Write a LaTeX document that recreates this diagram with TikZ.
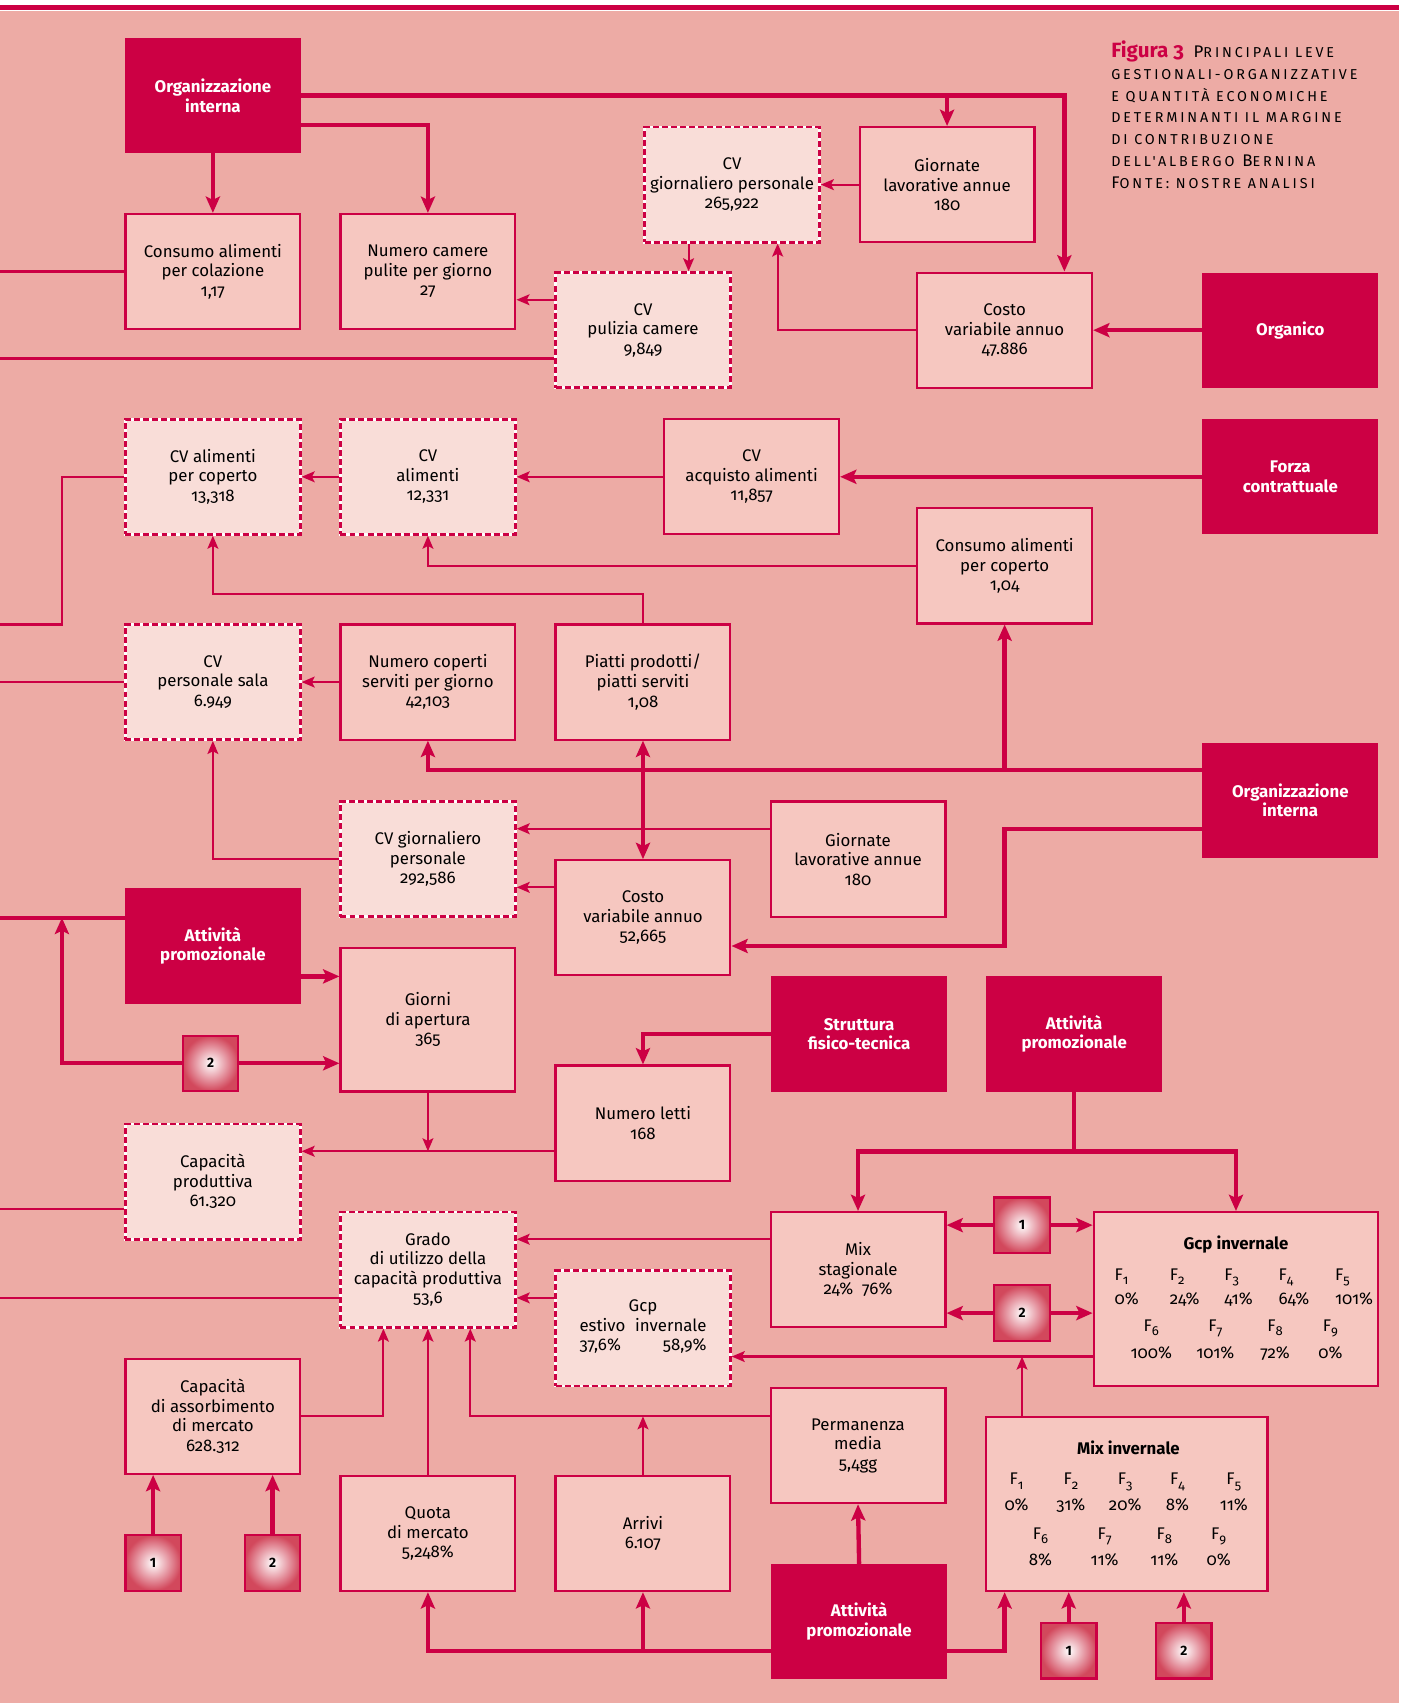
\documentclass[tikz,border=0pt]{standalone}
\usepackage{fontspec}
\setmainfont[Numbers=OldStyle]{Fira Sans}
\newfontfamily\capsfont[LetterSpace=20, Numbers=OldStyle]{Fira Sans}
\usetikzlibrary{arrows.meta}

\definecolor{cremisi}{RGB}{204,0,68}
\definecolor{sfondo}{RGB}{237,171,165}
\definecolor{rosaqta}{RGB}{246,199,192}
\definecolor{rosachiaro}{RGB}{249,221,216}
\definecolor{numrosso}{RGB}{210,72,92}

\newcommand{\Fpedice}[1]{F\raisebox{-4pt}{\fontsize{12}{12}\selectfont #1}}
\newcommand{\maiuscoletto}[1]{{\fontsize{13.2}{20.2}\selectfont\MakeUppercase{#1}}}
\AtBeginDocument{\fontsize{15.5}{18}\selectfont}

\tikzset{
  leva/.style={fill=cremisi, text=white, font=\bfseries, minimum width=162pt, minimum height=106pt, align=center, inner sep=0pt},
  qta/.style={fill=rosaqta, draw=cremisi, line width=2pt, minimum width=161pt, minimum height=106pt, align=center, inner sep=0pt},
  calcolo/.style={fill=rosachiaro, draw=white, line width=2.4pt, minimum width=161pt, minimum height=106pt, align=center, inner sep=0pt, postaction={draw=cremisi, dash pattern=on 5.5pt off 2.8pt}},
  rimando/.style={draw=cremisi, line width=2pt, inner color=white, outer color=numrosso, minimum size=51pt, inner sep=0pt, font=\bfseries\addfontfeatures{Numbers=Lining}\fontsize{12.5}{12.5}\selectfont},
  voce/.style={inner sep=0pt},
  filo/.style={draw=cremisi, line width=2pt, -{Stealth[length=12pt, width=10pt, inset=2.5pt]}},
  filoforte/.style={draw=cremisi, line width=4pt, -{Stealth[length=15pt, width=13pt, inset=3pt]}},
}

\begin{document}
\begin{tikzpicture}[x=1pt, y=-1pt]
\useasboundingbox (0,0) rectangle (1292,1568);
\fill[white] (0,0) rectangle (1292,1568);
\fill[sfondo] (0,10) rectangle (1288,1568);
\draw[cremisi, line width=4pt] (0,7) -- (1288,7);

% leve e quantita'
\node[leva] (oiA) at (196,88) {Organizzazione\\interna};
\node[qta] (colaz) at (196,250) {Consumo alimenti\\per colazione\\1,17};
\node[qta] (camere) at (394,250) {Numero camere\\pulite per giorno\\27};
\node[calcolo] (cvgp) at (674,170) {CV\\giornaliero personale\\265,922};
\node[qta] (giornA) at (872,170) {Giornate\\lavorative annue\\180};
\node[calcolo] (cvpul) at (592,304) {CV\\pulizia camere\\9,849};
\node[qta] (costoA) at (925,304) {Costo\\variabile annuo\\47.886};
\node[leva] (organico) at (1188,304) {Organico};
\node[calcolo] (cvalcop) at (196,439) {CV alimenti\\per coperto\\13,318};
\node[calcolo] (cval) at (394,439) {CV\\alimenti\\12,331};
\node[qta] (cvacq) at (692,439) {CV\\acquisto alimenti\\11,857};
\node[leva] (forza) at (1188,439) {Forza\\contrattuale};
\node[qta] (conscop) at (925,521) {Consumo alimenti\\per coperto\\1,04};
\node[calcolo] (cvsala) at (196,628) {CV\\personale sala\\6.949};
\node[qta] (coperti) at (394,628) {Numero coperti\\serviti per giorno\\42,103};
\node[qta] (piatti) at (592,628) {Piatti prodotti/\\piatti serviti\\1,08};
\node[leva] (oiB) at (1188,737) {Organizzazione\\interna};
\node[calcolo] (cvgpB) at (394,791) {CV giornaliero\\personale\\292,586};
\node[qta] (giornB) at (790,791) {Giornate\\lavorative annue\\180};
\node[qta] (costoB) at (592,845) {Costo\\variabile annuo\\52,665};
\node[leva] (promoA) at (196,871) {Attività\\promozionale};
\node[qta, minimum height=132pt] (apertura) at (394,939) {Giorni\\di apertura\\365};
\node[rimando] (rA2) at (194,979) {2};
\node[leva] (struttura) at (791,952) {Struttura\\fisico-tecnica};
\node[leva] (promoB) at (989,952) {Attività\\promozionale};
\node[qta] (letti) at (592,1034) {Numero letti\\168};
\node[calcolo] (capprod) at (196,1088) {Capacità\\produttiva\\61.320};
\node[calcolo] (grado) at (394,1169) {Grado\\di utilizzo della\\capacità produttiva\\53,6};
\node[qta] (mixstag) at (790,1169) {Mix\\stagionale\\24\%\ \ 76\%};
\node[rimando] (rB1) at (941,1128) {1};
\node[rimando] (rB2) at (941,1209) {2};
\node[qta, minimum width=262pt, minimum height=160pt] (gcpinv) at (1138,1196) {};
\node[calcolo] (gcpest) at (592,1223) {Gcp\\\begin{tabular}[t]{@{}l@{\hspace{9pt}}r@{}}estivo & invernale\\37,6\% & 58,9\%\end{tabular}};
\node[qta] (assorb) at (196,1304) {Capacità\\di assorbimento\\di mercato\\628.312};
\node[qta] (perman) at (790,1331) {Permanenza\\media\\5,4gg};
\node[qta, minimum width=259pt, minimum height=160pt] (mixinv) at (1037.5,1385) {};
\node[qta] (quota) at (394,1412) {Quota\\di mercato\\5,248\%};
\node[qta] (arrivi) at (592,1412) {Arrivi\\6.107};
\node[leva] (promoC) at (791,1493) {Attività\\promozionale};
\node[rimando] (rC1) at (141,1439) {1};
\node[rimando] (rC2) at (251,1439) {2};
\node[rimando] (rD1) at (984,1520) {1};
\node[rimando] (rD2) at (1090,1520) {2};

% Gcp invernale
\node[voce, anchor=base, font=\bfseries] (gcpTit) at (1138,1150) {Gcp invernale};
\foreach \f/\v/\x in {1/0\%/1026, 2/24\%/1077, 3/41\%/1127, 4/64\%/1177, 5/101\%/1229}{
  \node[voce, anchor=base west] (gF\f) at (\x,1179) {\Fpedice{\f}};
  \node[voce, anchor=base west] (gV\f) at (\x,1201) {\v};
}
\foreach \f/\v/\x in {6/100\%/1060, 7/101\%/1119, 8/72\%/1174, 9/0\%/1225}{
  \node[voce, anchor=base] (gF\f) at (\x,1226) {\Fpedice{\f}};
  \node[voce, anchor=base] (gV\f) at (\x,1251) {\v};
}
% Mix invernale
\node[voce, anchor=base, font=\bfseries] (mixTit) at (1039,1339) {Mix invernale};
\foreach \f/\v/\x in {1/0\%/936, 2/31\%/986, 3/20\%/1036, 4/8\%/1084, 5/11\%/1136, 6/8\%/958, 7/11\%/1017, 8/11\%/1072, 9/0\%/1122}{
  \pgfmathsetmacro{\yF}{\f<6 ? 1367 : 1417}
  \node[voce, anchor=base] (mF\f) at (\x,\yF) {\Fpedice{\f}};
  \node[voce, anchor=base] (mV\f) at (\x,\yF+24) {\v};
}

% punti di raccordo
\coordinate (bordoA) at (0,250);
\coordinate (bordoB) at (0,330);
\coordinate (bordoC) at (0,575);
\coordinate (bordoD) at (0,628);
\coordinate (bordoE) at (0,845);
\coordinate (bordoF) at (0,1113);
\coordinate (bordoG) at (0,1195);
\coordinate (ritorno) at (57,845);
\coordinate (cE) at (196,547);
\coordinate (cA) at ([xshift=-40pt]cvgp.south);
\coordinate (cB) at ([xshift=42pt]cvgp.south);
\coordinate (cC) at ([yshift=28pt]cvpul.west);
\coordinate (cD) at ([yshift=-26pt]cvpul.west);
\coordinate (cF) at ([yshift=28pt]oiB.west);
\coordinate (cG) at ([yshift=-26pt]oiB.west);
\coordinate (cH) at ([yshift=-26pt]costoB.east);
\coordinate (cI) at ([yshift=28pt]giornB.west);
\coordinate (cJ) at ([yshift=28pt]costoB.west);
\coordinate (cK) at ([yshift=-28pt]promoA.east);
\coordinate (lineaL) at ([yshift=-26pt]letti.west);
\coordinate (cL) at ([yshift=-25pt]capprod.west);
\coordinate (cM) at ([yshift=-55pt]promoB.south);
\coordinate (cN) at ([yshift=28pt]mixstag.west);
\coordinate (cO) at ([yshift=28pt]gcpest.west);
\coordinate (lineaG) at ([yshift=-53pt]gcpinv.west);
\coordinate (cP) at ([xshift=-96.5pt]mixinv.north);
\coordinate (cQ) at ([xshift=-41pt]grado.south);
\coordinate (lineaP) at ([yshift=27pt]perman.west);
\coordinate (cR) at ([xshift=39pt]grado.south);
\coordinate (cS) at ([yshift=-27pt]promoC.west);
\coordinate (cT) at ([yshift=-27pt]promoC.east);
\coordinate (cU) at ([xshift=-112.5pt]mixinv.south);

% collegamenti dalle leve
\draw[filoforte] (oiA.east) -| ([xshift=55pt]costoA.north);
\draw[filoforte] (giornA.north |- oiA.east) -- (giornA.north);
\draw[filoforte] (oiA.south) -- (colaz.north);
\draw[filoforte] ([yshift=-27pt]oiA.east) -| (camere.north);
\draw[filoforte] (organico.west) -- (costoA.east);
\draw[filoforte] (forza.west) -- (cvacq.east);
\draw[filoforte] (cF) -| (coperti.south);
\draw[filoforte] (conscop.south |- cF) -- (conscop.south);
\draw[filoforte, {Stealth[length=15pt, width=13pt, inset=3pt]}-{Stealth[length=15pt, width=13pt, inset=3pt]}] (piatti.south) -- (costoB.north);
\draw[filoforte] (cG) -- (cG -| conscop.south) |- (cH);
\draw[filoforte, -] (bordoE -| promoA.west) -- (bordoE);
\draw[filoforte] (cK) -- (cK -| apertura.west);
\draw[filoforte] (rA2.west) -| (ritorno);
\draw[filoforte] (rA2.east) -- (rA2.east -| apertura.west);
\draw[filoforte] (struttura.west) -| (letti.north);
\draw[filoforte] (promoB.south) -- (cM) -| (mixstag.north);
\draw[filoforte] (cM) -| (gcpinv.north);
\draw[filoforte] (rB1.west) -- (rB1.west -| mixstag.east);
\draw[filoforte] (rB1.east) -- (rB1.east -| gcpinv.west);
\draw[filoforte] (rB2.west) -- (rB2.west -| mixstag.east);
\draw[filoforte] (rB2.east) -- (rB2.east -| gcpinv.west);
\draw[filoforte] (promoC.north) -- (perman.south);
\draw[filoforte] (cS) -| (quota.south);
\draw[filoforte] (arrivi.south |- cS) -- (arrivi.south);
\draw[filoforte] (cT) -| (cU);
\draw[filoforte] (rD1.north) -- (rD1.north |- mixinv.south);
\draw[filoforte] (rD2.north) -- (rD2.north |- mixinv.south);
\draw[filoforte] (rC1.north) -- (rC1.north |- assorb.south);
\draw[filoforte] (rC2.north) -- (rC2.north |- assorb.south);

% collegamenti tra quantita'
\draw[filo] (giornA.west) -- (cvgp.east);
\draw[filo] (cA) -- (cA |- cvpul.north);
\draw[filo] (costoA.west) -| (cB);
\draw[filo] (cC) -- (cC -| camere.east);
\draw[filo, -] (cD) -- (bordoB);
\draw[filo, -] (colaz.west) -- (bordoA);
\draw[filo] (cvacq.west) -- (cval.east);
\draw[filo] (cval.west) -- (cvalcop.east);
\draw[filo, -] (cvalcop.west) -- (cvalcop.west -| ritorno) |- (bordoC);
\draw[filo] (conscop.west) -| (cval.south);
\draw[filo] (piatti.north) |- (cE) -- (cvalcop.south);
\draw[filo] (coperti.west) -- (cvsala.east);
\draw[filo, -] (cvsala.west) -- (bordoD);
\draw[filo] (cI) -- (cI -| cvgpB.east);
\draw[filo] (cJ) -- (cJ -| cvgpB.east);
\draw[filo] (cvgpB.west) -| (cvsala.south);
\draw[filo] (lineaL) -- (lineaL -| capprod.east);
\draw[filo] (apertura.south) -- (apertura.south |- lineaL);
\draw[filo, -] (cL) -- (bordoF);
\draw[filo] (cN) -- (cN -| grado.east);
\draw[filo] (cO) -- (cO -| grado.east);
\draw[filo, -] (bordoG -| grado.west) -- (bordoG);
\draw[filo] (lineaG) -- (lineaG -| gcpest.east);
\draw[filo] (cP) -- (cP |- lineaG);
\draw[filo] (assorb.east) -| (cQ);
\draw[filo] (quota.north) -- (grado.south);
\draw[filo] (lineaP) -| (cR);
\draw[filo] (arrivi.north) -- (arrivi.north |- lineaP);

% didascalia
\node[voce, anchor=north west, align=left, font=\capsfont\fontsize{15.5}{20.2}\selectfont] (titolo) at (1023,37)
  {{\normalfont\bfseries\fontsize{19}{20.2}\selectfont\color{cremisi}Figura 3}\hspace{9pt}P\maiuscoletto{rincipali leve}\\
   \maiuscoletto{gestionali-organizzative}\\
   \maiuscoletto{e quantità economiche}\\
   \maiuscoletto{determinanti il margine}\\
   \maiuscoletto{di contribuzione}\\
   \maiuscoletto{dell'albergo} B\maiuscoletto{ernina}\\
   F\maiuscoletto{onte: nostre analisi}};
\end{tikzpicture}
\end{document}
